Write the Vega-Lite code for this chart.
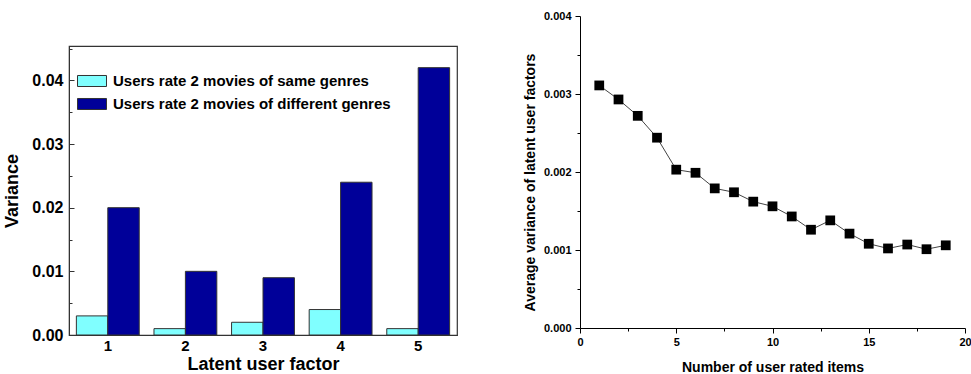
{
  "$schema": "https://vega.github.io/schema/vega-lite/v6.json",
  "padding": {"left": 3, "top": 10, "right": 2, "bottom": 0},
  "background": "white",
  "config": {
    "font": "Liberation Sans",
    "axis": {"labelFont": "Liberation Sans", "titleFont": "Liberation Sans", "labelFontWeight": "bold", "titleFontWeight": "bold", "labelColor": "black", "titleColor": "black", "grid": false}
  },
  "spacing": 65,
  "hconcat": [
    {
      "spacing": 10,
      "vconcat": [
        {
          "width": 388,
          "height": 19,
          "view": {"stroke": null},
          "data": {"values": [{"t": ""}]},
          "mark": {"type": "text"},
          "encoding": {"text": {"field": "t"}}
        },
        {
          "width": 388,
          "height": 289,
          "view": {"stroke": "#333333", "strokeWidth": 1.2},
          "data": {"values": [
            {"factor": "1", "group": "Users rate 2 movies of same genres", "variance": 0.003},
            {"factor": "1", "group": "Users rate 2 movies of different genres", "variance": 0.020},
            {"factor": "2", "group": "Users rate 2 movies of same genres", "variance": 0.001},
            {"factor": "2", "group": "Users rate 2 movies of different genres", "variance": 0.010},
            {"factor": "3", "group": "Users rate 2 movies of same genres", "variance": 0.002},
            {"factor": "3", "group": "Users rate 2 movies of different genres", "variance": 0.009},
            {"factor": "4", "group": "Users rate 2 movies of same genres", "variance": 0.004},
            {"factor": "4", "group": "Users rate 2 movies of different genres", "variance": 0.024},
            {"factor": "5", "group": "Users rate 2 movies of same genres", "variance": 0.001},
            {"factor": "5", "group": "Users rate 2 movies of different genres", "variance": 0.042}
          ]},
          "mark": {"type": "bar", "stroke": "#333333", "strokeWidth": 1},
          "encoding": {
            "x": {
              "field": "factor", "type": "nominal",
              "scale": {"paddingInner": 0.19, "paddingOuter": 0.095},
              "axis": {"labelAngle": 0, "labelFontSize": 15, "ticks": false, "labelPadding": 3, "title": "Latent user factor", "titleFontSize": 18, "titlePadding": 2, "domainColor": "#333333"}
            },
            "xOffset": {
              "field": "group", "type": "nominal",
              "sort": ["Users rate 2 movies of same genres", "Users rate 2 movies of different genres"],
              "scale": {"paddingInner": 0, "paddingOuter": 0}
            },
            "y": {
              "field": "variance", "type": "quantitative",
              "scale": {"domain": [0, 0.0454], "nice": false},
              "axis": {
                "values": [0, 0.005, 0.01, 0.015, 0.02, 0.025, 0.03, 0.035, 0.04, 0.045],
                "labelExpr": "round(datum.value*1000) % 10 == 0 ? format(datum.value, '.2f') : ''",
                "labelFontSize": 16,
                "tickSize": {"condition": {"test": "round(datum.value*1000) % 10 == 0", "value": -5}, "value": -3},
                "tickColor": "#333333",
                "domainColor": "#333333",
                "labelPadding": 11,
                "title": "Variance", "titleFontSize": 18, "titlePadding": 10
              }
            },
            "color": {
              "field": "group", "type": "nominal",
              "sort": ["Users rate 2 movies of same genres", "Users rate 2 movies of different genres"],
              "scale": {"range": ["#80FFFF", "#000099"]},
              "legend": {
                "title": null, "orient": "none", "legendX": 8, "legendY": 50,
                "symbolType": "M-1,-0.38H1V0.38H-1Z", "symbolSize": 841,
                "symbolStrokeColor": "#333333", "symbolStrokeWidth": 1,
                "labelFont": "Liberation Sans", "labelFontWeight": "bold", "labelFontSize": 15, "labelColor": "black",
                "labelOffset": 6, "rowPadding": -3, "labelLimit": 400
              }
            }
          }
        }
      ]
    },
    {
      "width": 385,
      "height": 312,
      "view": {"stroke": null},
      "data": {"values": [
        {"items": 1, "avgvar": 0.00311},
        {"items": 2, "avgvar": 0.00293},
        {"items": 3, "avgvar": 0.00272},
        {"items": 4, "avgvar": 0.00244},
        {"items": 5, "avgvar": 0.00203},
        {"items": 6, "avgvar": 0.00199},
        {"items": 7, "avgvar": 0.00179},
        {"items": 8, "avgvar": 0.00174},
        {"items": 9, "avgvar": 0.00162},
        {"items": 10, "avgvar": 0.00156},
        {"items": 11, "avgvar": 0.00143},
        {"items": 12, "avgvar": 0.00126},
        {"items": 13, "avgvar": 0.00138},
        {"items": 14, "avgvar": 0.00121},
        {"items": 15, "avgvar": 0.00108},
        {"items": 16, "avgvar": 0.00102},
        {"items": 17, "avgvar": 0.00107},
        {"items": 18, "avgvar": 0.00101},
        {"items": 19, "avgvar": 0.00106}
      ]},
      "encoding": {
        "x": {
          "field": "items", "type": "quantitative",
          "scale": {"domain": [0, 20], "nice": false},
          "axis": {
            "values": [0, 2.5, 5, 7.5, 10, 12.5, 15, 17.5, 20],
            "labelExpr": "datum.value % 5 == 0 ? format(datum.value, 'd') : ''",
            "labelFontSize": 11,
            "tickSize": {"condition": {"test": "datum.value % 5 == 0", "value": 5}, "value": 3},
            "tickColor": "black", "domainColor": "black",
            "labelPadding": 3, "labelFlush": false,
            "title": "Number of user rated items", "titleFontSize": 14, "titlePadding": 13
          }
        },
        "y": {
          "field": "avgvar", "type": "quantitative",
          "scale": {"domain": [0, 0.004], "nice": false},
          "axis": {
            "values": [0, 0.0005, 0.001, 0.0015, 0.002, 0.0025, 0.003, 0.0035, 0.004],
            "labelExpr": "round(datum.value*10000) % 10 == 0 ? format(datum.value, '.3f') : ''",
            "labelFontSize": 11,
            "tickSize": {"condition": {"test": "round(datum.value*10000) % 10 == 0", "value": 5}, "value": 3},
            "tickColor": "black", "domainColor": "black",
            "labelPadding": 4, "labelFlush": false,
            "title": "Average variance of latent user factors", "titleFontSize": 14, "titlePadding": 6,
            "titleY": 166
          }
        }
      },
      "layer": [
        {"mark": {"type": "line", "color": "#444444", "strokeWidth": 1}},
        {"mark": {"type": "point", "shape": "square", "filled": true, "color": "black", "size": 95, "opacity": 1}}
      ]
    }
  ]
}
